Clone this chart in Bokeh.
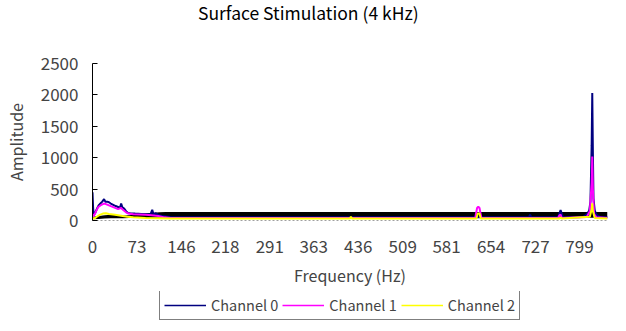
from bokeh.plotting import figure
from bokeh.layouts import column
from bokeh.models import FixedTicker, Legend, LegendItem, Range1d
from bokeh.core.properties import value
from bokeh.embed import file_html
from bokeh.resources import INLINE

TITLE = "Surface Stimulation (4 kHz)"
X_LABEL = "Frequency (Hz)"
Y_LABEL = "Amplitude"
x_ticks = [0, 73, 146, 218, 291, 363, 436, 509, 581, 654, 727, 799]
y_ticks = [0, 500, 1000, 1500, 2000, 2500]
series_names = ["Channel 0", "Channel 1", "Channel 2"]
series_colors = ["#000080", "#FF00FF", "#FFFF00"]

# Channel 0 (navy)
ch0_f = [0, 1, 2, 4, 7, 10, 13, 16, 19, 21, 24, 27, 30, 34, 38, 42, 45, 47, 49, 52, 55, 58, 62,
         70, 80, 90, 95, 98, 100, 104, 108, 115, 130, 300, 500, 716, 718, 720, 764, 766, 768, 770,
         772, 805, 811, 815, 817, 819, 820, 821, 822, 824, 827, 833, 845]
ch0_a = [450, 200, 100, 110, 180, 240, 270, 300, 340, 300, 300, 290, 270, 250, 230, 215, 200, 270,
         210, 190, 150, 120, 115, 110, 105, 100, 95, 170, 100, 115, 90, 70, 50, 50, 50, 50, 95, 50,
         50, 110, 165, 110, 50, 55, 100, 160, 300, 1200, 2030, 1100, 350, 160, 90, 55, 50]

# Channel 1 (magenta)
ch1_f = [0, 2, 5, 9, 13, 17, 19, 22, 27, 32, 37, 42, 47, 50, 55, 59, 67, 77, 87, 97, 108, 118,
         128, 300, 628, 631, 633, 635, 638, 764, 766, 768, 770, 811, 816, 819, 820, 821, 823, 827, 845]
ch1_a = [100, 70, 130, 210, 240, 260, 270, 260, 240, 220, 200, 180, 200, 170, 130, 110, 100, 95,
         90, 85, 70, 50, 40, 40, 40, 200, 220, 200, 40, 40, 80, 95, 40, 55, 150, 600, 1020, 500,
         100, 50, 40]

# Channel 2 (yellow)
ch2_f = [0, 3, 7, 12, 17, 22, 27, 37, 47, 57, 67, 87, 107, 127, 422, 424, 426, 630, 632, 635, 637,
         766, 768, 770, 816, 819, 820, 821, 824, 845]
ch2_a = [40, 30, 60, 90, 110, 115, 105, 90, 75, 60, 50, 40, 35, 30, 30, 60, 30, 30, 110, 110, 30,
         30, 50, 30, 60, 180, 275, 150, 40, 30]

# dense black noise band (envelope)
band_f = [0, 10, 20, 30, 40, 50, 60, 70, 80, 90, 100, 110, 120, 130, 845]
band_lo = [20, 25, 30, 35, 35, 35, 40, 45, 45, 45, 45, 45, 45, 45, 45]
band_hi = [60, 70, 85, 90, 85, 80, 85, 95, 105, 115, 125, 130, 135, 135, 135]

FONT = "Noto Sans CJK JP"
W = 616
BL, BR = 82, 9   # shared left/right borders so all frames line up

# ---- title strip ----
pt = figure(width=W, height=27, output_backend="svg", toolbar_location=None,
            x_range=Range1d(BL, W - BR), y_range=Range1d(0, 27),
            min_border_left=BL, min_border_right=BR, min_border_top=0, min_border_bottom=0,
            x_axis_type=None, y_axis_type=None)
pt.outline_line_color = None
pt.grid.visible = False
pt.text(x=[302], y=[15], text=[TITLE], text_align="center", text_baseline="middle",
        text_font=value(FONT), text_font_size="17.5px", text_color="black")

# ---- main plot ----
p = figure(width=W, height=264, output_backend="svg", toolbar_location=None,
           x_range=Range1d(0, 845), y_range=Range1d(0, 2500),
           min_border_left=BL, min_border_right=BR, min_border_top=36, min_border_bottom=71,
           background_fill_color="white", border_fill_color="white")
p.outline_line_color = None
p.grid.visible = False

p.varea(x=band_f, y1=band_lo, y2=band_hi, color="black")
p.line(ch0_f, ch0_a, color=series_colors[0], line_width=2)
p.line(ch1_f, ch1_a, color=series_colors[1], line_width=2)
p.line(ch2_f, ch2_a, color=series_colors[2], line_width=2)

xa = p.xaxis[0]
xa.ticker = FixedTicker(ticks=x_ticks)
xa.axis_label = X_LABEL
xa.axis_line_color = "#a0a0a0"
xa.axis_line_dash = "2 2"
xa.major_tick_in = 0
xa.major_tick_out = 0
xa.minor_tick_line_color = None
xa.major_label_standoff = 19
xa.axis_label_standoff = 7
xa.major_label_text_font = FONT
xa.major_label_text_font_size = "17px"
xa.axis_label_text_font = FONT
xa.axis_label_text_font_size = "16px"
xa.axis_label_text_font_style = "normal"

ya = p.yaxis[0]
ya.ticker = FixedTicker(ticks=y_ticks)
ya.axis_label = Y_LABEL
ya.axis_line_color = "black"
ya.major_tick_in = 5
ya.major_tick_out = 0
ya.minor_tick_line_color = None
ya.major_label_standoff = 14
ya.axis_label_standoff = 10
ya.major_label_text_font = FONT
ya.major_label_text_font_size = "17px"
ya.axis_label_text_font = FONT
ya.axis_label_text_font_size = "16px"
ya.axis_label_text_font_style = "normal"

# ---- legend strip ----
pl = figure(width=W, height=32, output_backend="svg", toolbar_location=None,
            x_range=Range1d(0, 1), y_range=Range1d(0, 1),
            min_border_left=BL, min_border_right=BR, min_border_top=0, min_border_bottom=0,
            x_axis_type=None, y_axis_type=None)
pl.outline_line_color = None
pl.grid.visible = False
items = []
for name, col in zip(series_names, series_colors):
    r = pl.line([5, 6], [5, 6], color=col, line_width=1.5)   # off-screen legend proxy
    items.append(LegendItem(label=name, renderers=[r]))
legend = Legend(items=items, orientation="horizontal", location=(67, 3),
                border_line_color="black", border_line_width=1,
                padding=4, spacing=4, margin=0, glyph_width=42, glyph_height=14,
                label_height=20, label_standoff=5, label_text_font=FONT,
                label_text_font_size="14.5px",
                background_fill_color="white", background_fill_alpha=1)
pl.add_layout(legend, "center")

layout = column(pt, p, pl, spacing=0)
open("out.html", "w").write(file_html(layout, INLINE))
